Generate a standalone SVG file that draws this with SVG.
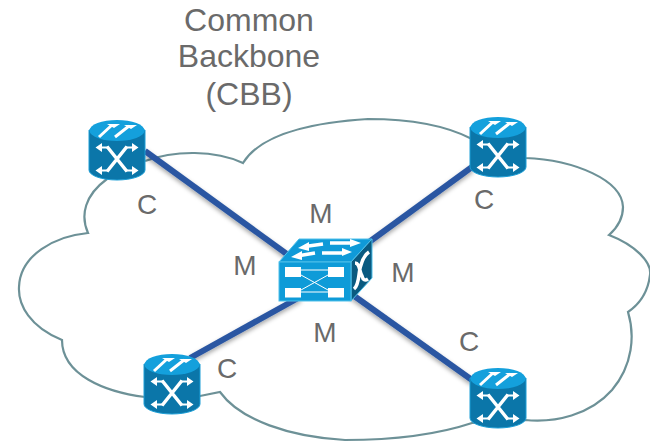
<svg xmlns="http://www.w3.org/2000/svg" width="650" height="442" viewBox="0 0 650 442">
<style>
.t{font-family:"Liberation Sans",Arial,sans-serif;fill:#6a6a6a;text-anchor:middle}
.l{font-size:28px}
.h{font-size:32px}
.link{stroke:#2b57a2;stroke-width:6;fill:none}
.w{fill:#fff}
.wl{stroke:#fff;fill:none;stroke-linecap:butt}
</style>
<defs>
<filter id="sh" x="-20%" y="-20%" width="140%" height="140%"><feDropShadow dx="0" dy="2.5" stdDeviation="2" flood-color="#000" flood-opacity=".35"/></filter>
<g id="router">
<path d="M0 10 V50 A28 10 0 0 0 56 50 V10Z" fill="#0b76a9" stroke="#1c9ed6" stroke-width="1"/>
<ellipse cx="28" cy="10.500" rx="27.500" ry="10.500" fill="#14a0dc"/>
<path class="wl" stroke-width="3" d="M10 17 L23 5 M26 17 L40 6"/>
<path class="w" d="M18 4 H31 L25 8Z M35 5 H48 L42 9Z"/>
<path class="wl" stroke-width="2" d="M11 27.500 H19 M37 27.500 H45 M11 50.500 H19 M37 50.500 H45"/>
<path class="wl" stroke-width="3.500" d="M18 26.500 L38 51.500 M38 26.500 L18 51.500"/>
<path class="w" d="M6.500 27.500 L13 23 V32Z M49.500 27.500 L43 23 V32Z M6.500 50.500 L13 46 V55Z M49.500 50.500 L43 46 V55Z"/>
</g>
</defs>
<path id="cloud" fill="#fff" stroke="#6d9197" stroke-width="2.200" d="M145 161 C175 150 215 150 243 163 C262 132 320 122 368 119 C410 119 445 125 472 139 L525 158 C575 160 622 180 623 207 C623 220 617 228 609 235 C635 245 652 262 650 275 C648 292 640 304 628 312 C635 335 633 365 612 390 C590 415 555 423 525 420 L472 423 C430 437 385 440 345 440 C290 437 240 420 220 392 L200 396 L145 397 C105 392 62 375 62 340 C30 327 18 305 19 287 C20 255 55 236 88 233 C80 215 85 195 107 179"/>
<g id="connectors" filter="url(#sh)">
<line class="link" x1="145" y1="151" x2="295" y2="260"/>
<line class="link" x1="472" y1="167" x2="365" y2="245"/>
<line class="link" x1="190" y1="358" x2="300" y2="297"/>
<line class="link" x1="350" y1="293" x2="472" y2="380"/>
</g>
<g id="node-switch">
<path d="M279 262 L299 239 H372 L351 262Z" fill="#0f9ad8" stroke="#4fc0ea" stroke-width="1"/>
<path d="M351 262 L372 239 V278 L351 301Z" fill="#0a5a80" stroke="#4fc0ea" stroke-width="1"/>
<rect x="279" y="262" width="72" height="39" fill="#0e9bd8" stroke="#4fc0ea" stroke-width="1"/>
<path class="wl" stroke-width="3.500" d="M305 246.500 L323 244 M330 243 H352 M297 256 L315 253 M322 253 H344"/>
<path class="w" d="M298 248 L309 242 V251Z M361 243 L350 239 V247Z M291 257 L302 251 V260Z M352 252 L342 248 V256Z"/>
<rect class="w" x="285" y="267" width="16" height="10"/>
<rect class="w" x="328" y="267" width="16" height="10"/>
<rect class="w" x="285" y="288" width="16" height="9.500"/>
<rect class="w" x="328" y="288" width="16" height="9.500"/>
<path class="wl" stroke-width="1" d="M301 270 H328 M301 292 H328 M301 290 L328 275 M301 275 L328 290"/>
<path class="wl" stroke-width="3.500" d="M354 289 C360 284 358 272 361 265 C363 258 366 254 369 252 M355 263 C360 263 359 271 362 276 C363 280 365 281 368 279"/>
</g>
<g id="node-cbb-nw"><use href="#router" x="89" y="120"/></g>
<g id="node-cbb-ne"><use href="#router" x="470" y="117"/></g>
<g id="node-cbb-sw"><use href="#router" x="144" y="354"/></g>
<g id="node-cbb-se"><use href="#router" x="470" y="368"/></g>
<g id="labels">
<text class="t h" x="249" y="31">Common</text>
<text class="t h" x="249" y="67">Backbone</text>
<text class="t h" x="249" y="105">(CBB)</text>
<text class="t l" x="147" y="214">C</text>
<text class="t l" x="484" y="209">C</text>
<text class="t l" x="227" y="378">C</text>
<text class="t l" x="469" y="351">C</text>
<text class="t l" x="321" y="223">M</text>
<text class="t l" x="245" y="275">M</text>
<text class="t l" x="403" y="282">M</text>
<text class="t l" x="325" y="342">M</text>
</g>
</svg>
